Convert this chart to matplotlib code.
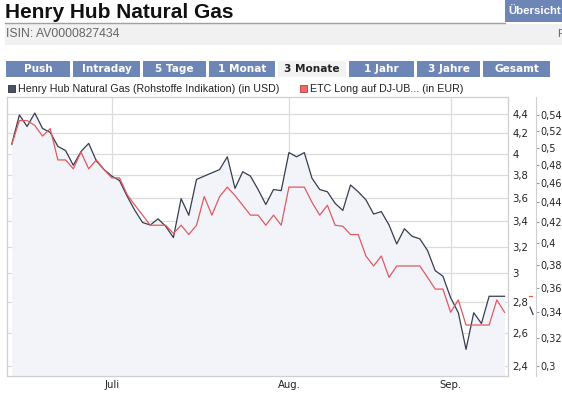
import numpy as np
import matplotlib
matplotlib.use("Agg")
import matplotlib.pyplot as plt
from matplotlib.patches import Rectangle
from matplotlib.lines import Line2D
from matplotlib.ticker import FixedLocator, NullLocator, FuncFormatter
from matplotlib.transforms import blended_transform_factory

W, H = 562, 393

# Henry Hub Natural Gas, USD (one value per trading day)
usd = [4.09, 4.39, 4.27, 4.41, 4.25, 4.21, 4.07, 4.03, 3.89, 4.02,
       4.10, 3.93, 3.85, 3.79, 3.75, 3.61, 3.49, 3.39, 3.37, 3.42,
       3.36, 3.27, 3.59, 3.45, 3.76, 3.79, 3.82, 3.85, 3.97, 3.68,
       3.83, 3.79, 3.67, 3.54, 3.67, 3.66, 4.01, 3.97, 4.01, 3.77,
       3.67, 3.65, 3.55, 3.49, 3.71, 3.65, 3.58, 3.46, 3.48, 3.37,
       3.22, 3.34, 3.28, 3.26, 3.17, 3.02, 2.98, 2.83, 2.73, 2.50,
       2.73, 2.66, 2.84, 2.84, 2.84]

# ETC Long auf DJ-UB..., EUR
eur = [0.504, 0.533, 0.533, 0.527, 0.514, 0.523, 0.486, 0.486, 0.476, 0.495,
       0.476, 0.486, 0.475, 0.466, 0.466, 0.448, 0.437, 0.427, 0.417, 0.417,
       0.417, 0.409, 0.417, 0.408, 0.417, 0.446, 0.427, 0.446, 0.456, 0.447,
       0.437, 0.427, 0.427, 0.417, 0.427, 0.417, 0.456, 0.456, 0.456, 0.440,
       0.427, 0.437, 0.417, 0.416, 0.408, 0.408, 0.388, 0.379, 0.388, 0.369,
       0.379, 0.379, 0.379, 0.379, 0.369, 0.359, 0.359, 0.340, 0.350, 0.330,
       0.330, 0.330, 0.330, 0.350, 0.340]

month_labels = ["Juli", "Aug.", "Sep."]
month_pos = [13, 36, 57]

usd_ticks = [2.4, 2.6, 2.8, 3.0, 3.2, 3.4, 3.6, 3.8, 4.0, 4.2, 4.4]
eur_ticks = [0.30, 0.32, 0.34, 0.36, 0.38, 0.40, 0.42, 0.44, 0.46, 0.48,
             0.50, 0.52, 0.54]

tab_names = ["Push", "Intraday", "5 Tage", "1 Monat", "3 Monate",
             "1 Jahr", "3 Jahre", "Gesamt"]
active_tab = "3 Monate"

title = "Henry Hub Natural Gas"
isin = "ISIN: AV0000827434"
legend_usd = "Henry Hub Natural Gas (Rohstoffe Indikation) (in USD)"
legend_eur = "ETC Long auf DJ-UB... (in EUR)"

DARK = "#363d50"
RED = "#e05a5e"
FILL = "#f3f4fa"
GRID = "#dcdcdc"
TAB = "#6e86b6"


def fx(x):
    return x / W


def fy(y):
    return 1 - y / H


def rect(fig, x0, y0, x1, y1, **kw):
    fig.add_artist(Rectangle((fx(x0), fy(y1)), (x1 - x0) / W, (y1 - y0) / H,
                             transform=fig.transFigure, **kw))


def comma(v, pos):
    return ("%g" % v).replace(".", ",")


fig = plt.figure(figsize=(W / 100, H / 100), dpi=100)
fig.patch.set_facecolor("white")

# ---- page header
fig.text(fx(5), fy(12), title, fontsize=15, fontweight="bold",
         family="Liberation Sans", va="center", ha="left", color="#111111")
fig.add_artist(Line2D([fx(5), fx(505)], [fy(22.5), fy(22.5)], color="#a0a0a0", lw=1))
rect(fig, 505, 0, 562, 22, color=TAB, lw=0)
fig.text(fx(534.5), fy(11), "Übersicht", fontsize=8.2, fontweight="bold",
         family="Liberation Sans", va="center", ha="center", color="white")
rect(fig, 5, 24, 562, 45, color="#f1f1f1", lw=0)
fig.text(fx(6), fy(34), isin, fontsize=8.8, family="Liberation Sans",
         va="center", ha="left", color="#666666")
fig.text(fx(557), fy(34), "F", fontsize=8, family="Liberation Sans",
         va="center", ha="left", color="#666666")

# ---- tabs
tab_edges = [(6, 70), (73, 140), (143, 206), (209, 275), (278, 346),
             (349, 414), (417, 480), (483, 550)]
for name, (x0, x1) in zip(tab_names, tab_edges):
    on = name == active_tab
    rect(fig, x0, 61, x1, 77, color="#f2f2f2" if on else TAB, lw=0)
    fig.text(fx((x0 + x1) / 2), fy(69.5), name, fontsize=7.6, fontweight="bold",
             family="DejaVu Sans", ha="center", va="center",
             color="#222222" if on else "white")

# ---- legend row
rect(fig, 8, 85, 15, 92, facecolor="#4a5366", edgecolor="#2b3140", lw=0.6)
fig.text(fx(18), fy(89), legend_usd, fontsize=7.7, family="Liberation Sans",
         va="center", ha="left", color="#222222")
rect(fig, 300, 85, 307, 92, facecolor="#f06a6a", edgecolor="#c03a3a", lw=0.6)
fig.text(fx(310), fy(89), legend_eur, fontsize=7.7, family="Liberation Sans",
         va="center", ha="left", color="#222222")

# ---- chart
ax = fig.add_axes([fx(7.3), fy(376), (508 - 7.3) / W, (376 - 97) / H])
x = np.arange(len(usd))
ax.fill_between(x, usd, 2.0, color=FILL, lw=0, zorder=1)
ax.plot(x, usd, color=DARK, lw=0.9, zorder=4)
ax.set_yscale("log")
ax.set_ylim(2.345, 4.583)
ax.set_xlim(-0.57, 64.45)
ax.set_xticks(month_pos)
ax.set_xticklabels(month_labels)
ax.tick_params(axis="x", length=0, pad=3, labelsize=7.3, labelcolor="#222222")
ax.grid(True, color=GRID, lw=0.9, zorder=0)
ax.set_axisbelow(True)
for s in ax.spines.values():
    s.set_color("#cfcfcf")
    s.set_linewidth(0.9)

ax2 = ax.twinx()
ax2.plot(x, eur, color=RED, lw=0.9, zorder=3)
ax2.set_yscale("log")
ax2.set_ylim(0.2928, 0.5633)
ax2.yaxis.set_major_locator(FixedLocator(eur_ticks))
ax2.yaxis.set_minor_locator(NullLocator())
ax2.yaxis.set_major_formatter(FuncFormatter(comma))
ax2.spines["right"].set_position(("axes", (535.7 - 7.3) / (508 - 7.3)))
ax2.spines["right"].set_color("#cfcfcf")
for side in ["left", "top", "bottom"]:
    ax2.spines[side].set_visible(False)
ax2.tick_params(axis="y", length=2.5, width=0.8, color="#9a9a9a", pad=0.8,
                labelsize=7.0, labelcolor="#222222")

# USD scale on the right edge of the plot (after twinx, which moves it left)
ax.yaxis.set_major_locator(FixedLocator(usd_ticks))
ax.yaxis.set_minor_locator(NullLocator())
ax.yaxis.set_major_formatter(FuncFormatter(comma))
ax.yaxis.tick_right()
ax.tick_params(axis="y", which="both", left=False, labelleft=False,
               right=True, labelright=True, length=0, pad=3,
               labelsize=7.3, labelcolor="#222222")
ax.set_zorder(ax2.get_zorder() - 1)
ax.patch.set_visible(True)
ax2.patch.set_visible(False)

# last-value markers between the two scales
bt = blended_transform_factory(ax.transAxes, ax.transData)
ax.plot([1.042, 1.048], [usd[-1], usd[-1]], color=RED, lw=0.9,
        transform=bt, clip_on=False)
bt2 = blended_transform_factory(ax2.transAxes, ax2.transData)
ax2.plot([1.044, 1.05], [eur[-1] * 1.012, eur[-1] * 0.995], color=DARK, lw=0.9,
         transform=bt2, clip_on=False)

fig.savefig("out.png", dpi=100)
